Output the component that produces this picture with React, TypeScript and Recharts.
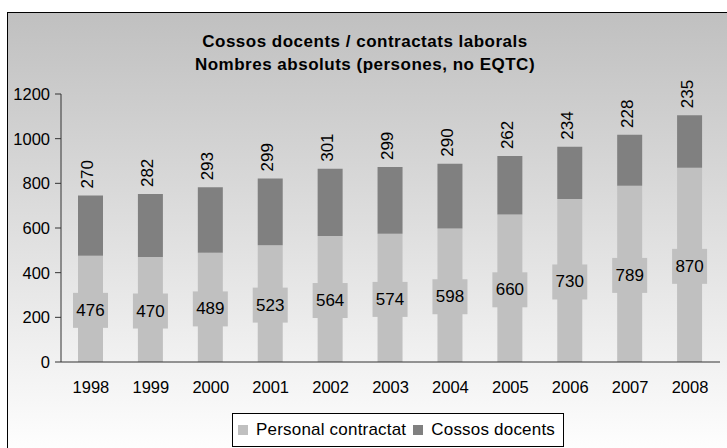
import React from 'react';
import { BarChart, Bar, XAxis, YAxis, LabelList } from 'recharts';

const years = ['1998', '1999', '2000', '2001', '2002', '2003', '2004', '2005', '2006', '2007', '2008'];
const personalContractat = [476, 470, 489, 523, 564, 574, 598, 660, 730, 789, 870];
const cossosDocents = [270, 282, 293, 299, 301, 299, 290, 262, 234, 228, 235];
const yTicks = [0, 200, 400, 600, 800, 1000, 1200];
const boundaryTicks = [0, 1, 2, 3, 4, 5, 6, 7, 8, 9, 10, 11];
const seriesNames = ['Personal contractat', 'Cossos docents'];
const seriesColors = ['#c0c0c0', '#808080'];

const data = years.map((year, i) => ({
  year,
  personal: personalContractat[i],
  docents: cossosDocents[i],
}));

const FONT = '"Liberation Sans", Arial, sans-serif';

// box label sitting in the middle of the light segment
const PersonalLabel = (props: any) => {
  const { x, y, width, height, value } = props;
  const cx = Number(x) + Number(width) / 2;
  const cy = Number(y) + Number(height) / 2 + 1.5;
  return (
    <g>
      <rect x={cx - 17.5} y={cy - 17.5} width={35} height={35} fill="#c0c0c0" />
      <text x={cx} y={cy} textAnchor="middle" dominantBaseline="central" fontSize={17} fontFamily={FONT} fill="#000">
        {value}
      </text>
    </g>
  );
};

// rotated label above the dark segment
const DocentsLabel = (props: any) => {
  const { x, y, width, value } = props;
  const bx = Number(x) + Number(width) / 2 + 3;
  const by = Number(y) - 7;
  return (
    <text x={bx} y={by} transform={`rotate(-90 ${bx} ${by})`} textAnchor="start" fontSize={17} fontFamily={FONT} fill="#000">
      {value}
    </text>
  );
};

const App: React.FC = () => {
  return (
    <div style={{ position: 'absolute', left: 0, top: 0, width: 727, height: 448, overflow: 'hidden', background: '#fff', fontFamily: FONT }}>
      <div
        style={{
          position: 'absolute',
          left: 7,
          top: 12,
          width: 740,
          height: 445,
          border: '1px solid #000',
          background: 'linear-gradient(to bottom, #c0c0c0, #ffffff)',
        }}
      />
      <div
        style={{
          position: 'absolute',
          left: 0,
          top: 30,
          width: 730,
          textAlign: 'center',
          fontSize: 17,
          fontWeight: 'bold',
          letterSpacing: 0.5,
          lineHeight: '23px',
          color: '#000',
        }}
      >
        <div>Cossos docents / contractats laborals</div>
        <div>Nombres absoluts (persones, no EQTC)</div>
      </div>

      <div style={{ position: 'absolute', left: 0, top: 0 }}>
        <BarChart width={727} height={448} data={data} margin={{ top: 94, right: 7, bottom: 46, left: 11 }}>
          <XAxis
            xAxisId="bounds"
            type="number"
            domain={[0, 11]}
            ticks={boundaryTicks}
            tick={false}
            axisLine={false}
            tickLine={{ stroke: '#333' }}
            tickSize={6}
            height={0}
            allowDataOverflow
          />
          <XAxis
            dataKey="year"
            height={40}
            tickLine={false}
            tickSize={0}
            tickMargin={19}
            axisLine={{ stroke: '#333' }}
            tick={{ fill: '#000', fontSize: 16.5, fontFamily: FONT }}
          />
          <YAxis
            width={50}
            domain={[0, 1200]}
            ticks={yTicks}
            tickSize={6}
            tickMargin={5}
            axisLine={{ stroke: '#333' }}
            tickLine={{ stroke: '#333' }}
            tick={{ fill: '#000', fontSize: 16.5, fontFamily: FONT }}
          />
          <Bar dataKey="personal" name={seriesNames[0]} stackId="a" fill={seriesColors[0]} barSize={25} isAnimationActive={false}>
            <LabelList dataKey="personal" content={PersonalLabel} />
          </Bar>
          <Bar dataKey="docents" name={seriesNames[1]} stackId="a" fill={seriesColors[1]} barSize={25} isAnimationActive={false}>
            <LabelList dataKey="docents" content={DocentsLabel} />
          </Bar>
        </BarChart>
      </div>

      {/* Legend */}
      <div
        style={{
          position: 'absolute',
          left: 232,
          top: 413,
          width: 332,
          height: 34,
          boxSizing: 'border-box',
          border: '1px solid #000',
          background: '#fff',
          display: 'flex',
          alignItems: 'center',
          paddingLeft: 5,
          fontSize: 17,
          letterSpacing: 0.2,
          color: '#000',
        }}
      >
        {seriesNames.map((name, i) => (
          <div key={name} style={{ display: 'flex', alignItems: 'center', marginRight: 7 }}>
            <div style={{ width: 10, height: 10, background: seriesColors[i], marginRight: 8 }} />
            <span>{name}</span>
          </div>
        ))}
      </div>
    </div>
  );
};

export default App;
